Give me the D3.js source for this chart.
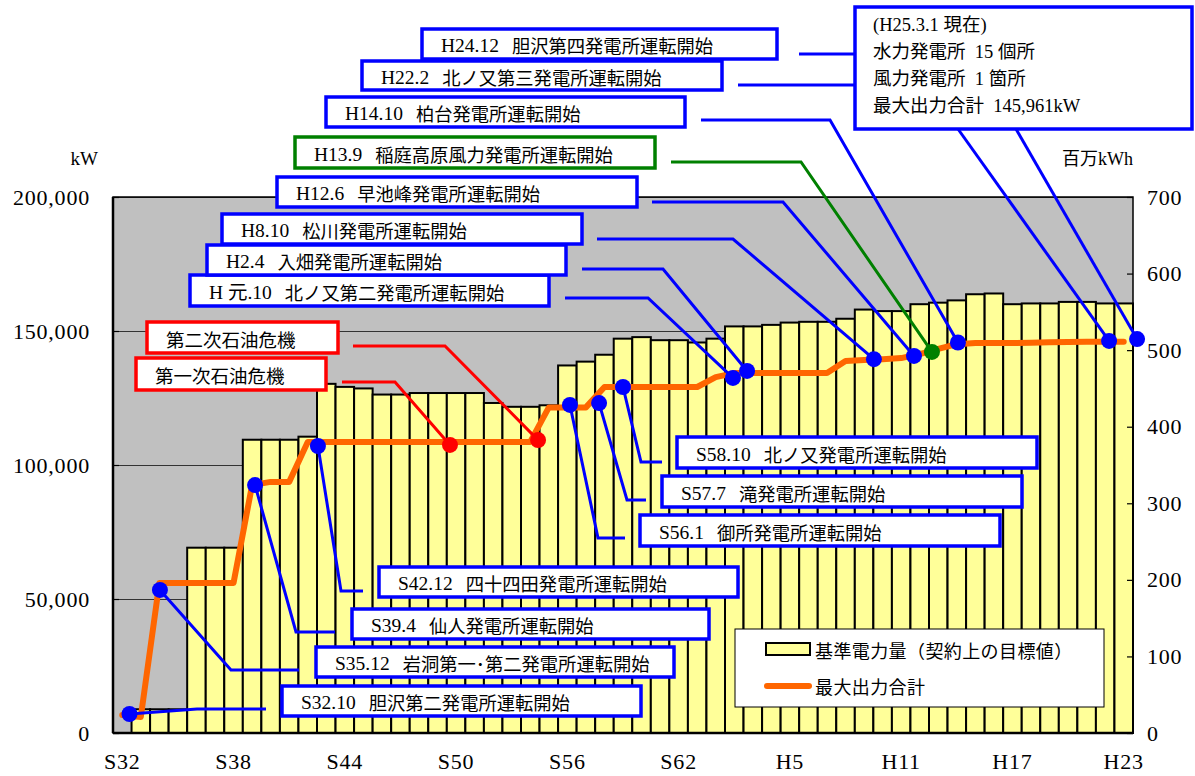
<!DOCTYPE html>
<html><head><meta charset="utf-8">
<script src="https://cdn.jsdelivr.net/npm/d3@7"></script>
<style>
html,body{margin:0;padding:0;background:#fff;}
svg{display:block;}
</style></head>
<body>
<svg id="chart" width="1195" height="776"></svg>
<script>
// ---------------- DATA ----------------
const categories = ["S32","S33","S34","S35","S36","S37","S38","S39","S40","S41","S42","S43","S44","S45","S46","S47","S48","S49","S50","S51","S52","S53","S54","S55","S56","S57","S58","S59","S60","S61","S62","S63",
  "H1","H2","H3","H4","H5","H6","H7","H8","H9","H10","H11","H12","H13","H14","H15","H16","H17","H18","H19","H20","H21","H22","H23"];
const xTickLabels = ["S32","S38","S44","S50","S56","S62","H5","H11","H17","H23"];
// 基準電力量 (百万kWh)
const energy = [0,31,31,31,242,242,242,383,383,383,387,456,452,450,442,442,444,444,444,444,431,426,426,428,480,485,494,515,517,513,513,510,
  515,531,531,533,536,537,537,541,553,551,551,560,562,565,573,574,560,561,561,563,563,561,561];
// 最大出力合計 (kW)
const maxOutput = [6700,6000,56000,56000,56000,56000,56000,92500,93700,93700,108600,108600,108600,108600,108600,108600,108600,108600,108600,108600,108600,108600,108600,121500,121500,121500,129100,129100,129100,129100,129100,129100,
  132800,134300,134300,134300,134300,134300,134300,138800,139200,139500,139900,141400,143300,145100,145500,145500,145500,145600,145800,145900,145961,145961,145961];
const leftTicks = [0,50000,100000,150000,200000];
const rightTicks = [0,100,200,300,400,500,600,700];
// events
const eventDates = ["S32.10","S35.12","S39.4","S42.12","","","S56.1","S57.7","S58.10","H 元.10","H2.4","H8.10","H12.6","H13.9","H14.10","H22.2","H24.12"];
const eventNames = ["胆沢第二発電所運転開始","岩洞第一･第二発電所運転開始","仙人発電所運転開始","四十四田発電所運転開始","第一次石油危機","第二次石油危機",
  "御所発電所運転開始","滝発電所運転開始","北ノ又発電所運転開始","北ノ又第二発電所運転開始","入畑発電所運転開始","松川発電所運転開始","早池峰発電所運転開始",
  "稲庭高原風力発電所運転開始","柏台発電所運転開始","北ノ又第三発電所運転開始","胆沢第四発電所運転開始"];
const eventKinds = ["hydro","hydro","hydro","hydro","oil","oil","hydro","hydro","hydro","hydro","hydro","hydro","hydro","wind","hydro","hydro","hydro"];
const eventYears = [1957.89,1959.53,1964.66,1968.05,1975.17,1979.92,1981.64,1983.21,1984.50,1990.43,1991.19,1998.03,2000.19,2001.16,2002.56,2010.71,2012.22];
const eventValues = [7100,53400,92500,107100,107500,109300,122400,123100,129100,132500,135100,139500,140700,142200,145700,146300,147000];
const infoLines = ["(H25.3.1 現在)","水力発電所  15 個所","風力発電所  1 箇所","最大出力合計  145,961kW"];
const legendLabels = ["基準電力量（契約上の目標値）","最大出力合計"];

// ---------------- LAYOUT ----------------
const P = {left:113, right:1133, top:197, bottom:733};
const kindColor = {hydro:"#0000FF", oil:"#FF0000", wind:"#008000"};
// label box [x,y,w,h] and leader waypoints (pixels), per event
const boxLayout = [
  {b:[282,686,359,30], p:[[266,709],[197,709]]},
  {b:[316,647,358,30], p:[[299,670],[231,670]]},
  {b:[352,609,357,30], p:[[335,632],[296,632]]},
  {b:[379,567,359,30], p:[[363,591],[341,591]]},
  {b:[136,358,190,32], p:[[342,382],[395,382]]},
  {b:[147,322,191,31], p:[[353,346],[445,346]]},
  {b:[640,515,360,31], p:[[625,538],[598,538]]},
  {b:[662,476,360,31], p:[[646,500],[627,500]]},
  {b:[677,437,360,31], p:[[662,462],[641,462]]},
  {b:[190,275,359,31], p:[[565,298],[648,298]]},
  {b:[207,245,359,30], p:[[582,269],[663,269]]},
  {b:[222,214,360,30], p:[[597,239],[733,239]]},
  {b:[277,177,360,30], p:[[652,202],[783,202]]},
  {b:[295,137,360,31], p:[[671,162],[801,162]]},
  {b:[326,97,359,30], p:[[701,120],[830,120]]},
  {b:[362,61,360,29], p:[[738,85],[855,85]], info:[958,129]},
  {b:[422,29,355,30], p:[[799,54],[855,54]], info:[1016,129]}
];
const infoBox = [855,7,337,122];
const serif = "'Liberation Serif','DejaVu Serif',serif";
const cjk = "'Noto Sans CJK JP','Liberation Serif',sans-serif";
const mixed = "'Liberation Serif','Noto Sans CJK JP',serif";

// ---------------- SCALES ----------------
const svg = d3.select("#chart");
const x = d3.scaleBand().domain(categories).range([P.left,P.right]).padding(0);
const xPos = d3.scaleLinear().domain([1957,2012]).range([P.left,P.right]);
const yL = d3.scaleLinear().domain([0,200000]).range([P.bottom,P.top]);
const yR = d3.scaleLinear().domain([0,700]).range([P.bottom,P.top]);

// plot background
svg.append("rect").attr("x",P.left).attr("y",P.top).attr("width",P.right-P.left).attr("height",P.bottom-P.top).attr("fill","#C0C0C0");

// gridlines
svg.append("g").attr("transform",`translate(${P.left},0)`)
  .call(d3.axisLeft(yL).tickValues(leftTicks).tickSize(-(P.right-P.left)).tickFormat(""))
  .call(g=>g.select(".domain").remove())
  .call(g=>g.selectAll("line").attr("stroke","#333").attr("stroke-width",1));

// bars
svg.append("g").selectAll("rect").data(categories).join("rect")
  .attr("x",d=>x(d)).attr("width",x.bandwidth())
  .attr("y",(d,i)=>yR(energy[i])).attr("height",(d,i)=>yR(0)-yR(energy[i]))
  .attr("fill","#FFFF99").attr("stroke","#000").attr("stroke-width",2)
  .attr("display",(d,i)=>energy[i]>0?null:"none");

// frame
svg.append("rect").attr("x",P.left).attr("y",P.top).attr("width",P.right-P.left).attr("height",P.bottom-P.top)
  .attr("fill","none").attr("stroke","#000").attr("stroke-width",1.5);
svg.append("line").attr("x1",P.left).attr("x2",P.left).attr("y1",P.top).attr("y2",P.bottom).attr("stroke","#000").attr("stroke-width",2.5);
svg.append("line").attr("x1",P.left).attr("x2",P.right).attr("y1",P.bottom).attr("y2",P.bottom).attr("stroke","#000").attr("stroke-width",2.5);

// axes
const axL = svg.append("g").attr("transform",`translate(${P.left},0)`)
  .call(d3.axisLeft(yL).tickValues(leftTicks).tickFormat(d3.format(",")).tickSize(-6).tickPadding(23));
const axR = svg.append("g").attr("transform",`translate(${P.right},0)`)
  .call(d3.axisRight(yR).tickValues(rightTicks).tickSize(-6).tickPadding(14));
const axB = svg.append("g").attr("transform",`translate(0,${P.bottom})`)
  .call(d3.axisBottom(x).tickValues(xTickLabels).tickSize(0).tickPadding(20));
[axL,axR,axB].forEach(a=>{
  a.select(".domain").remove();
  a.selectAll("line").attr("stroke","#000").attr("stroke-width",1.2);
  a.selectAll("text").attr("font-family",serif).attr("font-size",22).attr("letter-spacing",0.8).attr("fill","#000");
});
svg.append("text").attr("x",98).attr("y",158).attr("text-anchor","end").attr("dominant-baseline","central")
  .attr("font-family",serif).attr("font-size",19).text("kW");
svg.append("text").attr("x",1062).attr("y",159).attr("dominant-baseline","central")
  .attr("font-family",mixed).attr("font-size",18).text("百万kWh");

// max output line
const line = d3.line().x((d,i)=>x(categories[i])+x.bandwidth()/2).y(d=>yL(d));
svg.append("path").datum(maxOutput).attr("d",line).attr("fill","none")
  .attr("stroke","#FF6600").attr("stroke-width",6).attr("stroke-linejoin","round").attr("stroke-linecap","round");

// leader lines
const lg = svg.append("g");
boxLayout.forEach((L,i)=>{
  const col = kindColor[eventKinds[i]];
  const dot = [xPos(eventYears[i]), yL(eventValues[i])];
  if(L.info){
    lg.append("polyline").attr("points",L.p.map(p=>p.join(",")).join(" "))
      .attr("fill","none").attr("stroke",col).attr("stroke-width",3);
    lg.append("polyline").attr("points",[L.info,dot].map(p=>p.join(",")).join(" "))
      .attr("fill","none").attr("stroke",col).attr("stroke-width",3);
  } else {
    lg.append("polyline").attr("points",[...L.p,dot].map(p=>p.join(",")).join(" "))
      .attr("fill","none").attr("stroke",col).attr("stroke-width",3);
  }
});

// dots
svg.append("g").selectAll("circle").data(eventYears).join("circle")
  .attr("cx",d=>xPos(d)).attr("cy",(d,i)=>yL(eventValues[i])).attr("r",8)
  .attr("fill",(d,i)=>kindColor[eventKinds[i]]);

// label boxes
boxLayout.forEach((L,i)=>{
  const [bx,by,bw,bh] = L.b;
  const col = kindColor[eventKinds[i]];
  svg.append("rect").attr("x",bx).attr("y",by).attr("width",bw).attr("height",bh)
    .attr("fill","#fff").attr("stroke",col).attr("stroke-width",3.5);
  const t = svg.append("text").attr("x",bx+19).attr("y",by+bh/2+1).attr("dominant-baseline","central").attr("fill","#000");
  if(eventDates[i]){
    t.append("tspan").attr("font-family",mixed).attr("font-size",19.5).text(eventDates[i]);
    t.append("tspan").attr("dx",13).attr("font-family",cjk).attr("font-size",18.3).text(eventNames[i]);
  } else {
    t.append("tspan").attr("font-family",cjk).attr("font-size",18.5).text(eventNames[i]);
  }
});

// info box
svg.append("rect").attr("x",infoBox[0]).attr("y",infoBox[1]).attr("width",infoBox[2]).attr("height",infoBox[3])
  .attr("fill","#fff").attr("stroke","#0000FF").attr("stroke-width",3.5);
svg.append("g").selectAll("text").data(infoLines).join("text")
  .attr("x",873).attr("y",(d,i)=>25+i*27).attr("dominant-baseline","central")
  .attr("font-family",mixed).attr("font-size",18.5).attr("fill","#000")
  .attr("xml:space","preserve").style("white-space","pre").text(d=>d);

// legend
const lgd = svg.append("g");
lgd.append("rect").attr("x",735).attr("y",629).attr("width",369).attr("height",78)
  .attr("fill","#fff").attr("stroke","#000").attr("stroke-width",1);
lgd.append("rect").attr("x",766).attr("y",643).attr("width",44).attr("height",12)
  .attr("fill","#FFFF99").attr("stroke","#000").attr("stroke-width",2);
lgd.append("line").attr("x1",767).attr("x2",809).attr("y1",686).attr("y2",686)
  .attr("stroke","#FF6600").attr("stroke-width",6).attr("stroke-linecap","round");
lgd.selectAll("text.l").data(legendLabels).join("text").attr("class","l")
  .attr("x",815).attr("y",(d,i)=>650+i*36).attr("dominant-baseline","central")
  .attr("font-family",cjk).attr("font-size",18).attr("letter-spacing",0.4).attr("fill","#000").text(d=>d);
</script>
</body></html>
